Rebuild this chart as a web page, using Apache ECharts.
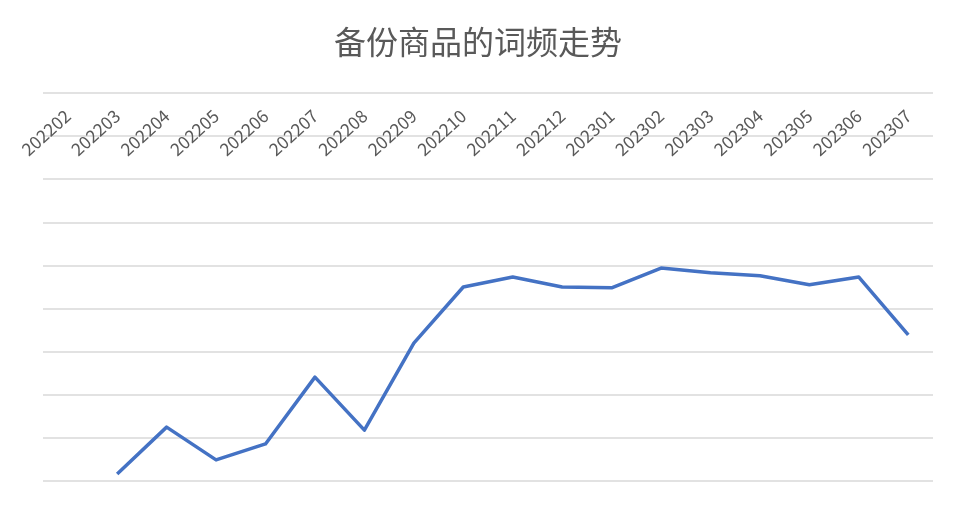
<!DOCTYPE html>
<html>
<head>
<meta charset="utf-8">
<script src="https://cdn.jsdelivr.net/npm/echarts@6/dist/echarts.min.js"></script>
<style>html,body{margin:0;padding:0;background:#fff}#c{width:956px;height:521px}</style>
</head>
<body>
<div id="c"></div>
<script>
var chartTitle = '备份商品的词频走势';
var categories = ['202202','202203','202204','202205','202206','202207','202208','202209','202210','202211','202212','202301','202302','202303','202304','202305','202306','202307'];
var values = [null, 0.16, 1.25, 0.49, 0.86, 2.41, 1.18, 3.2, 4.5, 4.73, 4.5, 4.48, 4.94, 4.83, 4.76, 4.55, 4.73, 3.39];

var chart = echarts.init(document.getElementById('c'));
chart.setOption({
  animation: false,
  backgroundColor: '#ffffff',
  title: {
    text: chartTitle,
    left: 'center',
    top: 21,
    textStyle: { fontFamily: 'Noto Sans CJK SC', fontSize: 32, fontWeight: 'normal', color: '#595959' }
  },
  grid: { left: 43, right: 23, top: 93, bottom: 40, containLabel: false },
  xAxis: {
    type: 'category',
    position: 'top',
    data: categories,
    boundaryGap: true,
    axisLine: { show: false },
    axisTick: { show: false },
    axisLabel: {
      inside: true,
      rotate: 42,
      margin: 20,
      interval: 0,
      color: '#595959',
      fontSize: 17.5,
      fontFamily: 'Noto Sans CJK SC'
    }
  },
  yAxis: {
    type: 'value',
    min: 0,
    max: 9,
    interval: 1,
    axisLine: { show: false },
    axisTick: { show: false },
    axisLabel: { show: false },
    splitLine: { show: true, lineStyle: { color: '#d9d9d9', width: 1.5 } }
  },
  series: [{
    type: 'line',
    data: values,
    showSymbol: false,
    symbol: 'none',
    lineStyle: { color: '#4472C4', width: 3.5, join: 'round' },
    itemStyle: { color: '#4472C4' }
  }]
});
</script>
</body>
</html>
